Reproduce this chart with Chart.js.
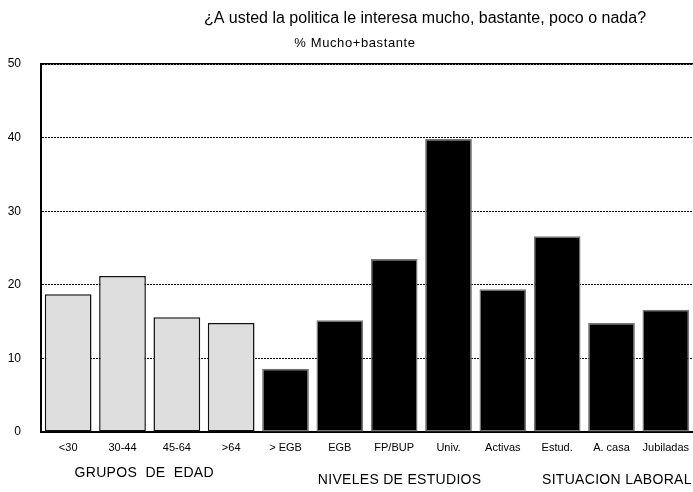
<!DOCTYPE html>
<html>
<head>
<meta charset="utf-8">
<script src="https://cdn.jsdelivr.net/npm/chart.js@4"></script>
<style>
  html, body { margin: 0; padding: 0; background: #fff; }
  #wrap { width: 693px; height: 492px; }
</style>
</head>
<body>
<div id="wrap"><canvas id="interesPolitica"></canvas></div>
<script>
const categorias = ["<30", "30-44", "45-64", ">64", "> EGB", "EGB", "FP/BUP", "Univ.", "Activas", "Estud.", "A. casa", "Jubiladas"];
const muchoBastante = [18.7, 21.2, 15.6, 14.8, 8.6, 15.2, 23.5, 39.8, 19.4, 26.6, 14.8, 16.6];
const grupo = ["edad", "edad", "edad", "edad", "estudios", "estudios", "estudios", "estudios", "laboral", "laboral", "laboral", "laboral"];
const gruposTexto = ["GRUPOS  DE  EDAD", "NIVELES DE ESTUDIOS", "SITUACION LABORAL"];
const yTicks = [0, 10, 20, 30, 40, 50];

const titulo = "¿A usted la politica le interesa mucho, bastante, poco o nada?";
const subtitulo = "% Mucho+bastante";

const FONT = "'Liberation Sans', Arial, sans-serif";

// textos de cabecera y etiquetas de grupo bajo el eje
const textosExtra = {
  id: "textosExtra",
  afterDraw(c) {
    const { ctx, chartArea } = c;
    const x = c.scales.x;
    ctx.save();
    ctx.fillStyle = "#000";
    ctx.textAlign = "center";
    ctx.textBaseline = "middle";

    ctx.font = "16px " + FONT;
    ctx.fillText(titulo, 425, 19);

    ctx.font = "13px " + FONT;
    ctx.letterSpacing = "0.6px";
    ctx.fillText(subtitulo, 355, 43);

    ctx.font = "14px " + FONT;
    ctx.letterSpacing = "0.3px";
    const pos = [
      [x.getPixelForValue(1.40), chartArea.bottom + 41],
      [x.getPixelForValue(6.10), chartArea.bottom + 48],
      [x.getPixelForValue(10.10), chartArea.bottom + 48],
    ];
    gruposTexto.forEach((t, i) => ctx.fillText(t, pos[i][0], pos[i][1]));
    ctx.restore();
  },
};

new Chart(document.getElementById("interesPolitica"), {
  type: "bar",
  data: {
    labels: categorias,
    datasets: [
      {
        label: subtitulo,
        data: muchoBastante,
        backgroundColor: grupo.map((g) => (g === "edad" ? "#dedede" : "#000")),
        borderColor: grupo.map((g) => (g === "edad" ? "#111" : "#777")),
        borderWidth: 1.5,
        borderSkipped: false,
        barPercentage: 0.86,
        categoryPercentage: 1,
      },
    ],
  },
  options: {
    responsive: true,
    maintainAspectRatio: false,
    animation: false,
    layout: { padding: { top: 64, right: 0, left: 0, bottom: 0 } },
    scales: {
      x: {
        grid: { display: false, drawTicks: false },
        border: { display: true, color: "#000", width: 2 },
        ticks: {
          color: "#000",
          font: { size: 11, family: FONT },
          padding: 9,
          maxRotation: 0,
          autoSkip: false,
        },
        afterFit: (s) => {
          s.height = 60;
          s.paddingLeft = 0;
          s.paddingRight = 0;
        },
      },
      xTop: {
        position: "top",
        grid: { display: false, drawTicks: false },
        border: { display: true, color: "#000", width: 1.5 },
        ticks: { display: false },
        afterFit: (s) => {
          s.height = 0;
          s.paddingLeft = 0;
          s.paddingRight = 0;
        },
      },
      y: {
        min: 0,
        max: 50,
        afterBuildTicks: (s) => { s.ticks = yTicks.map((v) => ({ value: v })); },
        grid: { color: "#000", lineWidth: 1, drawTicks: false },
        border: { display: true, color: "#000", width: 2, dash: [2, 1] },
        ticks: {
          color: "#000",
          font: { size: 12, family: FONT },
          padding: 20,
        },
        afterFit: (s) => { s.width = 41; },
      },
    },
    plugins: {
      legend: { display: false },
      tooltip: { enabled: false },
    },
  },
  plugins: [textosExtra],
});
</script>
</body>
</html>
